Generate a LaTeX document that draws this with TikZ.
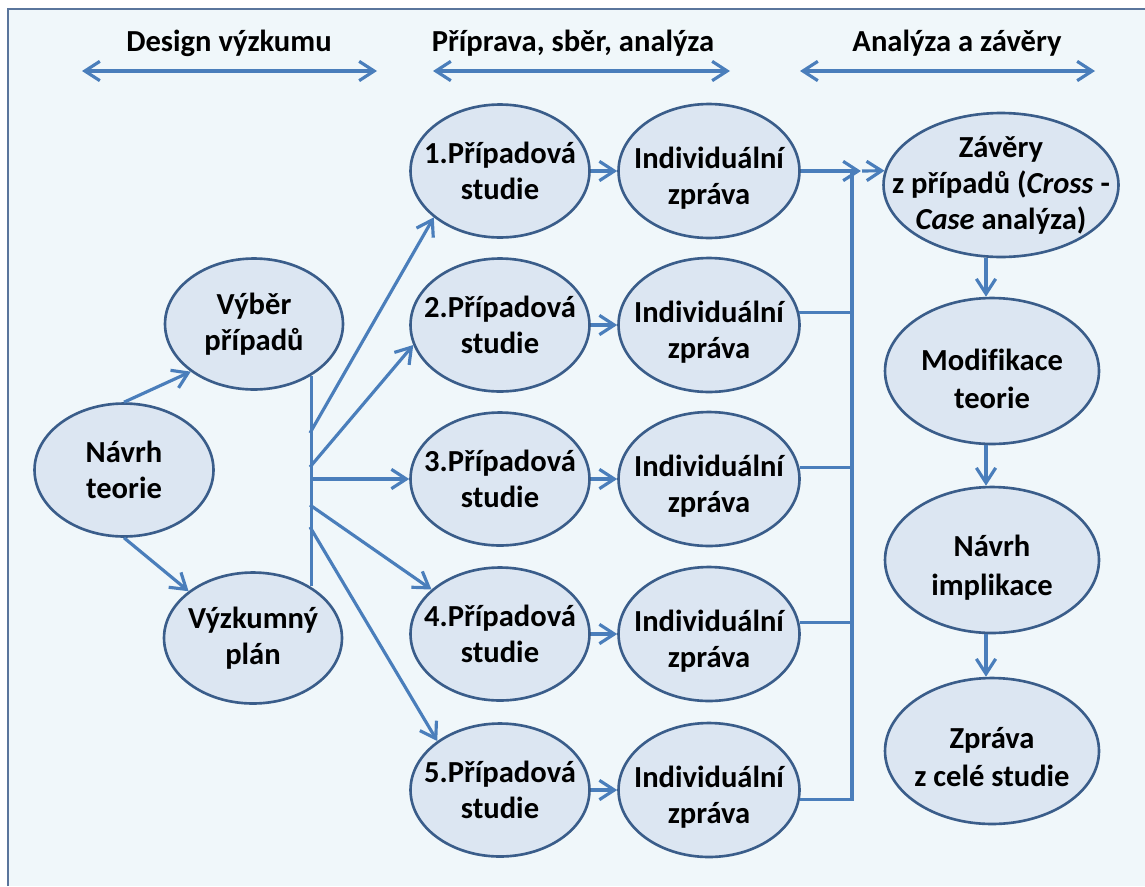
\documentclass[tikz,border=0pt]{standalone}
\usepackage{fontspec}
\setmainfont{Carlito}[Ligatures=NoCommon]
\usetikzlibrary{shapes.geometric,arrows.meta}
\definecolor{bgc}{HTML}{F0F7FA}
\definecolor{framec}{HTML}{5A759C}
\definecolor{ovalfill}{HTML}{DCE6F2}
\definecolor{ovaldraw}{HTML}{3A5D8A}
\definecolor{linec}{HTML}{4A7EBB}
\begin{document}
\begin{tikzpicture}[x=0.02cm,y=-0.02cm,
  txt/.style={font=\fontsize{17.4}{20.5}\selectfont\bfseries, align=center, text=black},
  oval/.style={ellipse, draw=ovaldraw, fill=ovalfill, line width=1.5pt, inner sep=-18pt, txt},
  caseov/.style={oval, minimum width=3.58cm, minimum height=2.66cm},
  repov/.style={oval, minimum width=3.62cm, minimum height=2.68cm},
  rightov/.style={oval, minimum width=4.28cm, minimum height=2.92cm},
  leftov/.style={oval, minimum width=3.56cm, minimum height=2.62cm},
  conn/.style={draw=linec, line width=1.8pt, line join=miter},
  tip/.tip={Straight Barb[length=8.5pt,width=11pt]},
  arr/.style={conn, -tip},
  darr/.style={conn, tip-tip},
  head/.style={txt, anchor=base, inner sep=0pt}
]
\useasboundingbox (0,0) rectangle (1145,886);
% background frame
\fill[bgc] (8,9) rectangle (1145,886);
\draw[framec, line width=1.3pt] (8,886) -- (8,9) -- (1145,9);

% headers
\node[head] (h1) at (229,51) {Design výzkumu};
\node[head] (h2) at (573,51) {Příprava, sběr, analýza};
\node[head] (h3) at (957,51) {Analýza a závěry};
\coordinate (h1l) at (82,71);  \coordinate (h1r) at (377,71);
\coordinate (h2l) at (433,71); \coordinate (h2r) at (730,71);
\coordinate (h3l) at (800,71); \coordinate (h3r) at (1095,71);
\draw[darr] (h1l) -- (h1r);
\draw[darr] (h2l) -- (h2r);
\draw[darr] (h3l) -- (h3r);

% left part
\node[leftov, minimum height=2.66cm, minimum width=3.58cm] (nt) at (124,470) {Návrh\\teorie};
\node[leftov] (vv) at (254,324) {Výběr\\případů};
\node[leftov] (vp) at (253,638) {Výzkumný\\plán};

% case studies and reports
\foreach \i/\y in {1/171,2/325,3/479,4/634,5/790}{
  \node[caseov] (c1-\i) at (500,\y) {\i.Případová\\studie};
  \node[repov] (c2-\i) at (709,\y) {\rule{0pt}{20pt}Individuální\\zpráva};
}

% right column
\node[oval, minimum width=4.7cm, minimum height=2.88cm] (zav) at (1001,185)
  {Závěry\\z případů (\textit{Cross} -\\\textit{Case} analýza)};
\node[rightov] (mod) at (992,371) {\rule{0pt}{21pt}Modifikace\\[1.5pt]teorie};
\node[rightov] (ni) at (992,560) {\rule{0pt}{21pt}Návrh\\[1.5pt]implikace};
\node[rightov] (zp) at (992,751) {\rule{0pt}{19pt}Zpráva\\[1.5pt]z celé studie};

% connectors left
\draw[arr] (nt.north) -- (vv.217);
\draw[arr] (nt.south) -- (vp.144);
\draw[conn] (vv.-42) -- (vv.-42 |- vp.42);
\coordinate (f1) at (310,433);
\coordinate (f2) at (310,467);
\coordinate (f3) at (310,479);
\coordinate (f4) at (310,505);
\coordinate (f5) at (310,527);
\draw[arr] (f1) -- (c1-1.215);
\draw[arr] (f2) -- (c1-2.193);
\draw[arr] (f3) -- (c1-3.west);
\draw[arr] (f4) -- (c1-4.147);
\draw[arr] (f5) -- (c1-5.142);

% case -> report
\foreach \i in {1,...,5}{
  \draw[arr] (c1-\i.east) -- (c2-\i.west);
}

% reports -> bus
\coordinate (bustop) at (852,171);
\coordinate (j1) at (861,171);
\coordinate (j2) at (862,171);
\draw[arr] (c2-1.east) -- (j1);
\draw[arr] (j2) -- (zav.173);
\draw[conn] (c2-5.-6) -| (bustop);
\draw[conn] (c2-2.8) -- (c2-2.8 -| bustop);
\draw[conn] (c2-3.7) -- (c2-3.7 -| bustop);
\draw[conn] (c2-4.7) -- (c2-4.7 -| bustop);

% right column arrows
\coordinate (vx) at (986,0);
\draw[arr] (zav.south -| vx) -- (mod.north -| vx);
\draw[arr] (mod.south -| vx) -- (ni.north -| vx);
\draw[arr] (ni.south -| vx) -- (zp.north -| vx);
\end{tikzpicture}
\end{document}
